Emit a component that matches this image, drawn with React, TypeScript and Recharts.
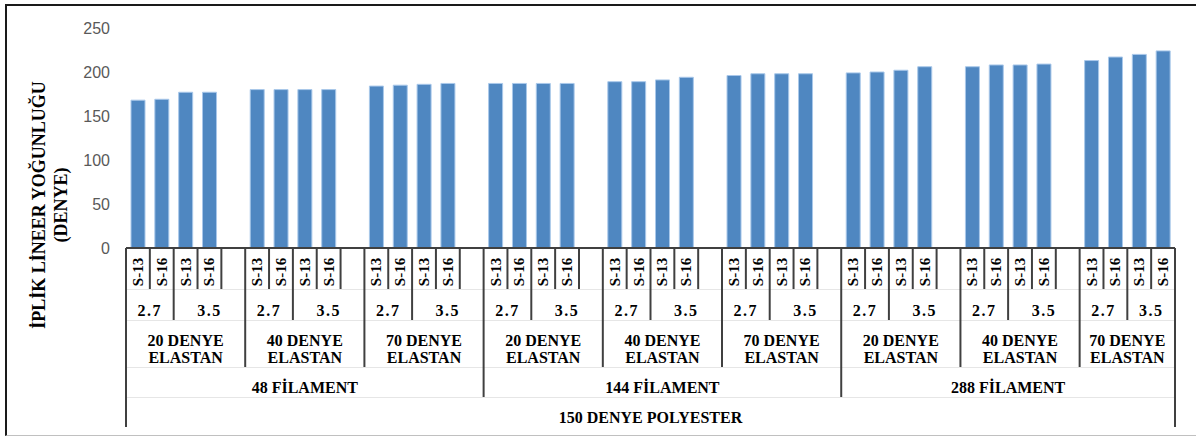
import React from "react";
import { BarChart, Bar, XAxis, YAxis } from "recharts";

// category levels, innermost last
const polyester = "150 DENYE POLYESTER";
const filaments = ["48 FİLAMENT", "144 FİLAMENT", "288 FİLAMENT"];
const elastans = [
  ["20 DENYE", "ELASTAN"],
  ["40 DENYE", "ELASTAN"],
  ["70 DENYE", "ELASTAN"],
];
const drafts = ["2.7", "3.5"];
const speeds = ["S-13", "S-16"];

// linear density (filament > elastan > draft > speed)
const values = [
  168, 169, 177, 177,
  180, 180, 180, 180,
  184, 185, 186, 187,
  187, 187, 187, 187,
  189, 189, 191, 194,
  196, 198, 198, 198,
  199, 200, 202, 206,
  206, 208, 208, 209,
  213, 217, 220, 224,
];

const yTicks = [0, 50, 100, 150, 200, 250];
const yTitle = ["İPLİK LİNEER YOĞUNLUĞU", "(DENYE)"];

type Row = {
  slot: string;
  value: number | null;
  fil: number;
  ela: number;
  dr: number;
  sp: string;
};

// one empty slot after every elastan group, except the very last one
const rows: Row[] = [];
let k = 0;
filaments.forEach((_, f) => {
  elastans.forEach((_, e) => {
    drafts.forEach((_, d) =>
      speeds.forEach((s) => {
        rows.push({ slot: `s${rows.length}`, value: values[k++], fil: f, ela: e, dr: d, sp: s });
      })
    );
    const last = f === filaments.length - 1 && e === elastans.length - 1;
    if (!last) {
      rows.push({ slot: `s${rows.length}`, value: null, fil: f, ela: e, dr: drafts.length - 1, sp: "" });
    }
  });
});

const W = 1196;
const H = 438;
const MARGIN = { top: 28, right: 21, left: 0, bottom: 0 };
const Y_AXIS_W = 126;
const X_AXIS_H = 190;
const SLOT_W = (W - MARGIN.left - MARGIN.right - Y_AXIS_W) / rows.length;

// depth (below the axis line) of each level's row bottom
const ROW_BOTTOM = [41, 72, 119, 149, 179];
const LINE = "#404040";
const FONT = "Liberation Serif";

const levelKey = (r: Row, lvl: number) =>
  lvl === 0 ? r.slot : lvl === 1 ? `${r.fil}-${r.ela}-${r.dr}` : lvl === 2 ? `${r.fil}-${r.ela}` : lvl === 3 ? `${r.fil}` : "all";

const isStart = (i: number, lvl: number) => i === 0 || levelKey(rows[i - 1], lvl) !== levelKey(rows[i], lvl);

const spanOf = (i: number, lvl: number) => {
  let n = 1;
  while (i + n < rows.length && levelKey(rows[i + n], lvl) === levelKey(rows[i], lvl)) n++;
  return n;
};

const txt = (x: number, y: number, s: string, size = 15, spacing = 0) => (
  <text
    x={x}
    y={y}
    textAnchor="middle"
    dominantBaseline="central"
    fontFamily={FONT}
    fontWeight="bold"
    fontSize={size}
    letterSpacing={spacing}
    fill="#000"
  >
    {s}
  </text>
);

const MultiTick = (props: any) => {
  const { x, y, index } = props;
  const r = rows[index];
  if (!r) return null;
  const left = x - SLOT_W / 2;
  let lvl = 0;
  for (let l = 4; l >= 0; l--) {
    if (isStart(index, l)) {
      lvl = l;
      break;
    }
  }
  const mid = (l: number) => left + (spanOf(index, l) * SLOT_W) / 2;
  const last = index === rows.length - 1;
  return (
    <g>
      <line x1={left} x2={left} y1={y} y2={y + ROW_BOTTOM[lvl]} stroke={LINE} strokeWidth={2} />
      {last && (
        <line x1={left + SLOT_W} x2={left + SLOT_W} y1={y} y2={y + ROW_BOTTOM[4]} stroke={LINE} strokeWidth={2} />
      )}
      {r.sp && (
        <text
          x={x}
          y={y + 24}
          transform={`rotate(-90 ${x} ${y + 24})`}
          textAnchor="middle"
          dominantBaseline="central"
          fontFamily={FONT}
          fontWeight="bold"
          fontSize={15}
          fill="#000"
        >
          {r.sp}
        </text>
      )}
      {isStart(index, 1) && txt(mid(1), y + 62, drafts[r.dr], 16, 1.5)}
      {isStart(index, 2) && (
        <g>
          {txt(mid(2), y + 92, elastans[r.ela][0], 16)}
          {txt(mid(2), y + 109, elastans[r.ela][1], 16)}
        </g>
      )}
      {isStart(index, 3) && txt(mid(3), y + 139, filaments[r.fil], 16)}
      {index === 0 && txt(mid(4), y + 169, polyester, 16)}
    </g>
  );
};

const YTitle = () => (
  <g>
    {yTitle.map((s, i) => {
      const cx = 39 + i * 22;
      const cy = 205;
      return (
        <text
          key={s}
          x={cx}
          y={cy}
          transform={`rotate(-90 ${cx} ${cy})`}
          textAnchor="middle"
          dominantBaseline="central"
          fontFamily={FONT}
          fontWeight="bold"
          fontSize={18}
          fill="#000"
        >
          {s}
        </text>
      );
    })}
  </g>
);

export default function App() {
  return (
    <div style={{ position: "absolute", left: 0, top: 0, width: W, height: H, background: "#fff", overflow: "hidden" }}>
      {/* chart frame, right side runs off the picture */}
      <div
        style={{
          position: "absolute",
          left: 5,
          top: 4,
          width: W + 20,
          height: H - 6,
          borderTop: "2px solid #1a1a1a",
          borderLeft: "2px solid #1a1a1a",
          borderBottom: "1px solid #c0c0c0",
          boxSizing: "border-box",
        }}
      />
      {/* faint row separators of the category axis */}
      {ROW_BOTTOM.slice(0, 4).map((d) => (
        <div
          key={d}
          style={{
            position: "absolute",
            left: Y_AXIS_W,
            top: H - X_AXIS_H + d,
            width: W - MARGIN.right - Y_AXIS_W,
            height: 1,
            background: "#e6e6e6",
          }}
        />
      ))}
      <div style={{ position: "absolute", left: 0, top: 0 }}>
        <BarChart width={W} height={H} data={rows} margin={MARGIN} barCategoryGap={0}>
          <XAxis
            dataKey="slot"
            type="category"
            interval={0}
            height={X_AXIS_H}
            tickLine={false}
            tickSize={0}
            tickMargin={0}
            axisLine={{ stroke: LINE, strokeWidth: 2 }}
            tick={<MultiTick />}
          />
          <YAxis
            domain={[0, 250]}
            ticks={yTicks}
            width={Y_AXIS_W}
            axisLine={false}
            tickLine={false}
            tickMargin={10}
            tick={{ fill: "#595959", fontSize: 16, fontFamily: "Liberation Sans" }}
            label={<YTitle />}
          />
          <Bar dataKey="value" barSize={14} fill="#4F87C1" stroke="#a9c8ea" strokeWidth={1} isAnimationActive={false} />
        </BarChart>
      </div>
    </div>
  );
}
